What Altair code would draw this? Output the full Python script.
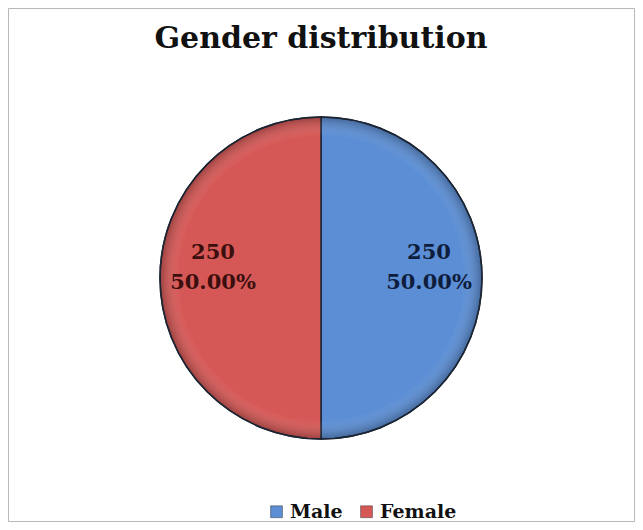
import altair as alt
import pandas as pd

title_text = ["Gender distribution"]
genders = ["Male", "Female"]
counts = [250, 250]
percents = ["50.00%", "50.00%"]
slice_colors = ["#5B8ED5", "#D65856"]
label_colors = ["#0f1d3c", "#3c0f0f"]

df = pd.DataFrame({
    "gender": genders,
    "count": counts,
    "pct": percents,
    "order": list(range(len(genders))),
    "lcolor": label_colors,
})
df["label"] = df["count"].astype(str) + "\n" + df["pct"]

W, H = 627, 514
CX, CY = 313, 270
R = 161
SERIF = "DejaVu Serif"

base = alt.Chart(df).encode(
    theta=alt.Theta("count:Q", stack=True),
    order=alt.Order("order:Q"),
)

pie = base.mark_arc(outerRadius=R, x=CX, y=CY, stroke="#1c2533", strokeWidth=1.5).encode(
    color=alt.Color(
        "gender:N",
        scale=alt.Scale(domain=genders, range=slice_colors),
        legend=alt.Legend(
            title=None,
            orient="none",
            legendX=259,
            legendY=494,
            direction="horizontal",
            symbolType="square",
            symbolSize=140,
            symbolStrokeColor="#333333",
            symbolStrokeWidth=0.5,
            labelFont=SERIF,
            labelFontWeight="bold",
            labelFontSize=19,
            labelColor="#111111",
            columnPadding=14,
            symbolOffset=0,
        ),
    )
)

shade = alt.Chart(pd.DataFrame({"k": [0]})).mark_arc(
    outerRadius=R, theta=0, theta2=6.2832,
    fill=alt.Gradient(
        gradient="radial", x1=0.5, y1=0.5, x2=0.5, y2=0.5, r1=0, r2=0.5,
        stops=[
            alt.GradientStop(offset=0, color="rgba(255,255,255,0)"),
            alt.GradientStop(offset=0.88, color="rgba(255,255,255,0)"),
            alt.GradientStop(offset=1, color="rgba(0,0,0,0.28)"),
        ],
    ),
    stroke="#1c2533", strokeWidth=1.5,
).encode(x=alt.value(CX), y=alt.value(CY))

labels = base.mark_text(
    radius=108, x=CX, y=CY, font=SERIF, fontWeight="bold", fontSize=21,
    lineBreak="\n", lineHeight=30, align="center", baseline="middle", dy=-25,
).encode(
    text="label:N",
    color=alt.Color("lcolor:N", scale=None),
)

title = alt.Chart(pd.DataFrame({"t": title_text})).mark_text(
    x=CX, y=31, font=SERIF, fontWeight="bold", fontSize=30, color="#111111",
    align="center", baseline="middle",
).encode(text="t:N")

frame = alt.Chart(pd.DataFrame({"k": [0]})).mark_rect(
    fill="transparent", stroke="#b8b8b8", strokeWidth=1
).encode(x=alt.value(0.5), x2=alt.value(W - 0.5), y=alt.value(0.5), y2=alt.value(H - 0.5))

chart = alt.layer(frame, pie, shade, labels, title).resolve_scale(color="independent").properties(
    width=W,
    height=H,
    padding=0,
    autosize=alt.AutoSizeParams(type="fit", contains="padding"),
    background="white",
).configure_view(stroke=None)

chart.save("out.html", embed_options={"renderer": "svg", "actions": False})
